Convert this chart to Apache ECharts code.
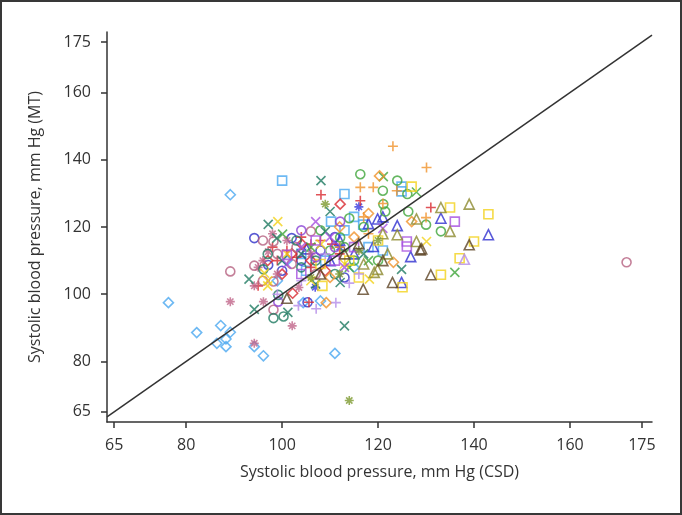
<!DOCTYPE html>
<html>
<head>
<meta charset="utf-8" />
<title>Systolic blood pressure MT vs CSD</title>
<script type="text/javascript" src="https://cdn.jsdelivr.net/npm/echarts@6/dist/echarts.min.js"></script>
<style>
  html, body { margin: 0; padding: 0; background: #fff; }
  #chart { width: 682px; height: 515px; }
</style>
</head>
<body>
<div id="chart"></div>
<script type="text/javascript">
// tick labels
var tickValues = [65, 80, 100, 120, 140, 160, 175];

// [CSD, MT] pairs per marker group
var lightBlueDiamond = [[76.3,97.5],[82.2,88.6],[87.2,90.7],[89.2,88.7],[88.3,86.7],[86.4,85.4],[88.3,84.4],[94.2,84.4],[96.1,81.7],[111,82.4],[89.2,129.6],[104.4,97.5],[99,104],[101,110],[115,108],[108,98]];
var lightBlueSquare = [[100,133.8],[113,129.8],[124.9,132],[124.9,130.6],[110.2,121.6],[116.9,120.7],[104,112],[109,110],[113,119],[105,107],[118,114],[121,113],[115,123]];
var blueCircle = [[94.2,116.7],[102,116.7],[97.1,108.7],[105.3,97.6],[104,110],[108,113],[111,117],[113,105],[100,107]];
var blueTriangle = [[133.1,122.6],[143,117.7],[119.9,122.4],[124,120.4],[119,114.2],[126.8,111.2],[124.9,103.5],[105.1,113.5],[110,110],[115,112],[112,116],[118,121],[121,123]];
var blueAsterisk = [[106.9,102.1],[112,114],[116,126]];
var redPlus = [[131,125.8],[116.3,127.8],[108.1,129.6],[106,114.9],[110.4,114.9],[95,102.5],[105.6,97.6],[98,114],[101,113],[103,111],[106,108],[108,116],[112,112],[99,110],[104,117]];
var redDiamond = [[112.1,126.8],[104.1,114.9],[102.2,100.3],[100,106],[97,110],[102,112],[106,110],[109,107]];
var mauveCircle = [[89.2,106.8],[94.2,108.5],[98.2,115.7],[106,118.7],[98.2,103.8],[98.2,95.4],[171.8,109.5],[96,104],[99,112],[102,109],[103,114],[107,106],[96,116]];
var mauveAsterisk = [[89.2,97.8],[94.2,85.4],[102.1,90.6],[96.1,97.8],[94.2,102.5],[97.1,112.7],[103.5,102],[95,108],[96,110],[99,106],[101,116],[106,112],[98,118]];
var greenCircle = [[116.3,135.7],[124,133.8],[126.1,129.8],[121,130.8],[121.1,126.8],[121.5,124.6],[126.3,124.6],[130,120.7],[133.1,118.7],[114,122.6],[112.1,116.9],[110,113],[117,120],[115,110],[108,119],[120,110],[113,114]];
var greenCross = [[121.1,135],[128,130.4],[100.1,117.9],[136,106.5],[118,110],[114,108],[106,114]];
var tealCross = [[108.1,133.8],[110,124.6],[97.1,120.8],[98.9,116.7],[109,118.7],[93.1,104.5],[94.2,95.5],[101.2,94.6],[113,90.6],[112.1,103.5],[124.9,107.4],[104,112],[107,103],[100,110],[117,112]];
var tealCircle = [[96.1,107.4],[98.2,92.9],[100.3,93.4],[99.2,99.8],[104,108],[107,110],[111,106],[97,112],[103,116]];
var orangePlus = [[123.1,144],[130.1,137.7],[116.3,131.8],[119,131.8],[123.9,130.8],[130,122.8],[121,127],[118,118],[112,114],[117,123]];
var orangeDiamond = [[120.3,135.2],[127,121.6],[123.2,109.5],[109.2,97.5],[118,124],[115,117],[110,105],[112,120]];
var yellowSquare = [[127,132],[135,125.8],[143,123.8],[140,115.7],[137,110.7],[133.1,105.8],[125.1,102.1],[108.4,102.5],[120,116],[114,110],[108,109],[116,105]];
var yellowCross = [[99.1,121.6],[108.1,114.9],[130.1,115.7],[118.2,104.5],[96.3,106.3],[97,102.5],[101,112],[113,109],[106,104],[97,104]];
var purpleSquare = [[136,121.6],[126,115.7],[126,114.2],[101,111.7],[107,116],[111,110],[104,106],[115,114]];
var purpleCross = [[107,121.6],[121,119.6],[104,114],[110,117],[113,108],[101,109]];
var purpleCircle = [[112.1,121.6],[99.2,97.8],[107,111],[111,114],[104,119]];
var lavenderPlus = [[103.4,96.6],[107.1,95.7],[111.2,97.5],[114,103.3],[99,100],[104,104],[116,106],[109,112]];
var lavenderTriangle = [[138,110.4]];
var oliveTriangle = [[133.1,125.8],[139,126.8],[135,118.7],[128,122.4],[124,117.7],[128,115.7],[119.9,107.4],[119.2,106.5],[122,112],[117,109],[121,118]];
var oliveAsterisk = [[114,68.4],[109,126.8],[120,116],[112,106],[116,113],[106,105]];
var brownTriangle = [[139,114.7],[129.1,113.5],[131,105.8],[123,103.5],[116.9,101.5],[101,98.8],[128.8,113.2],[116,115],[108,106],[113,112],[121,110]];

// identity line y = x across the whole plot
var lineStart = 63.5, lineEnd = 177.1;

var PLUS = 'path://M0,5L10,5M5,0L5,10';
var CROSS = 'path://M0,0L10,10M10,0L0,10';
var STAR = 'path://M0,5L10,5M5,0L5,10M1.5,1.5L8.5,8.5M8.5,1.5L1.5,8.5';

function group(name, data, symbol, color, size) {
  return {
    name: name,
    type: 'scatter',
    data: data,
    symbol: symbol,
    symbolSize: size || 9,
    itemStyle: { color: 'rgba(0,0,0,0)', borderColor: color, borderWidth: 1.6 },
    emphasis: { disabled: true },
    z: 3
  };
}

var series = [
  { type: 'line', data: [[lineStart, lineStart], [lineEnd, lineEnd]], showSymbol: false,
    lineStyle: { color: '#333', width: 1.5 }, z: 5, silent: true },
  group('lbd', lightBlueDiamond, 'diamond', '#4aa8f0', 10),
  group('lbs', lightBlueSquare, 'rect', '#4aa8f0', 9),
  group('bc', blueCircle, 'circle', '#2f2fc8', 9),
  group('bt', blueTriangle, 'triangle', '#2f2fd0', 10),
  group('ba', blueAsterisk, STAR, '#3a3ae0', 9),
  group('rp', redPlus, PLUS, '#d8282e', 10),
  group('rd', redDiamond, 'diamond', '#d8282e', 10),
  group('mc', mauveCircle, 'circle', '#b5607f', 9),
  group('ma', mauveAsterisk, STAR, '#c0658a', 9),
  group('gc', greenCircle, 'circle', '#3fa53a', 9),
  group('gx', greenCross, CROSS, '#3fa53a', 9),
  group('tx', tealCross, CROSS, '#1f7a62', 9),
  group('tc', tealCircle, 'circle', '#1f7a62', 9),
  group('op', orangePlus, PLUS, '#f0922a', 10),
  group('od', orangeDiamond, 'diamond', '#f0922a', 10),
  group('ys', yellowSquare, 'rect', '#f2d21a', 9),
  group('yx', yellowCross, CROSS, '#f2d21a', 9),
  group('ps', purpleSquare, 'rect', '#a650e0', 9),
  group('px', purpleCross, CROSS, '#a650e0', 9),
  group('pc', purpleCircle, 'circle', '#8a42d6', 9),
  group('lp', lavenderPlus, PLUS, '#b48ce8', 10),
  group('lt', lavenderTriangle, 'triangle', '#b48ce8', 10),
  group('ot', oliveTriangle, 'triangle', '#8c8a2e', 10),
  group('oa', oliveAsterisk, STAR, '#7d9a30', 9),
  group('brt', brownTriangle, 'triangle', '#5c4424', 10)
];

var textFont = '"Open Sans", "Noto Sans", sans-serif';

var myChart = echarts.init(document.getElementById('chart'));
var option = {
  animation: false,
  backgroundColor: '#fff',
  grid: { left: 107, right: 30, top: 32, bottom: 93, outerBoundsMode: 'none' },
  graphic: [{
    type: 'rect', silent: true, z: 100,
    shape: { x: 1, y: 1, width: 680, height: 513 },
    style: { fill: 'none', stroke: '#383838', lineWidth: 2 }
  }],
  xAxis: {
    type: 'value', min: lineStart, max: lineEnd,
    name: 'Systolic blood pressure, mm Hg (CSD)',
    nameLocation: 'middle', nameGap: 42,
    nameTextStyle: { fontFamily: textFont, fontSize: 16, color: '#333' },
    axisLine: { show: true, lineStyle: { color: '#333', width: 1.5 } },
    axisTick: { show: true, length: 6, customValues: tickValues, lineStyle: { color: '#333', width: 1.5 } },
    axisLabel: { customValues: tickValues, margin: 15, fontFamily: textFont, fontSize: 16, color: '#333' },
    splitLine: { show: false }
  },
  yAxis: {
    type: 'value', min: 62, max: 178,
    name: 'Systolic blood pressure, mm Hg (MT)',
    nameLocation: 'middle', nameGap: 64,
    nameTextStyle: { fontFamily: textFont, fontSize: 16, color: '#333' },
    axisLine: { show: true, lineStyle: { color: '#333', width: 1.5 } },
    axisTick: { show: true, length: 6, customValues: tickValues, lineStyle: { color: '#333', width: 1.5 } },
    axisLabel: { customValues: tickValues, margin: 16, fontFamily: textFont, fontSize: 16, color: '#333' },
    splitLine: { show: false }
  },
  series: series
};
myChart.setOption(option);
</script>
</body>
</html>
